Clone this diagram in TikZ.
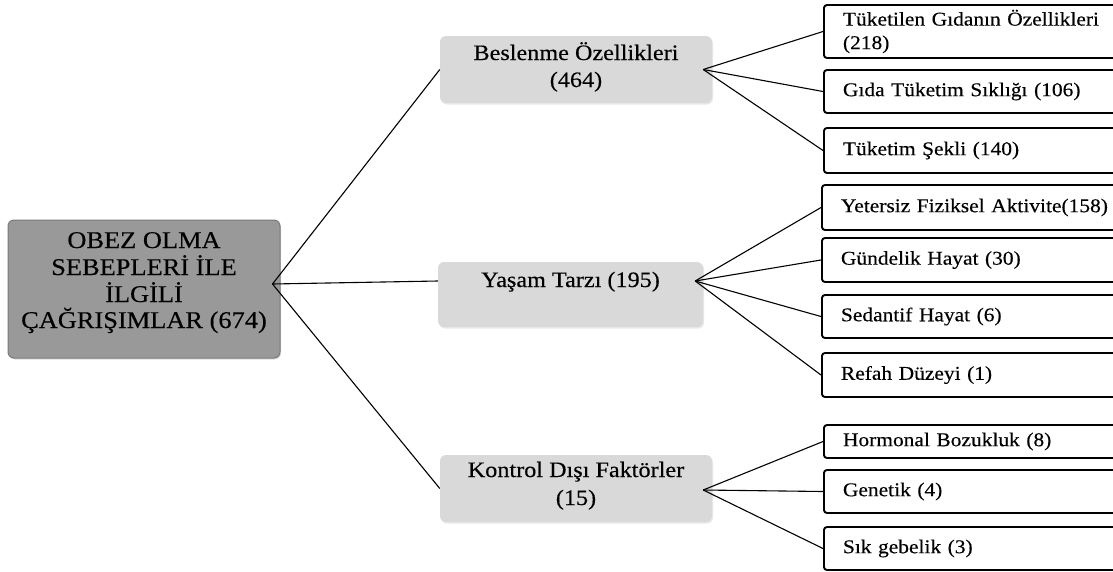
\documentclass[tikz,border=0pt]{standalone}
\usepackage{fontspec}
\setmainfont{Liberation Serif}[FakeStretch=1.1, UprightFeatures={FakeBold=0.3}]
\usetikzlibrary{shadows}
\definecolor{rootfill}{HTML}{999999}
\definecolor{rootline}{HTML}{7A7A7A}
\definecolor{midfill}{HTML}{D9D9D9}
\tikzset{
  x=1pt, y=-1pt,
  rootbox/.style={draw=rootline, line width=1pt, fill=rootfill, rounded corners=6pt,
    minimum width=272pt, minimum height=138pt, inner sep=0pt,
    drop shadow={opacity=0.25, shadow xshift=1pt, shadow yshift=-1.5pt}},
  roottext/.style={anchor=base, inner sep=0pt, font=\fontsize{24}{26.5}\selectfont},
  midbox/.style={fill=midfill, rounded corners=6pt, inner sep=0pt,
    drop shadow={opacity=0.18, shadow xshift=1pt, shadow yshift=-1.5pt}},
  midtext/.style={anchor=base, inner sep=0pt, font=\fontsize{22}{28}\selectfont},
  leafbox/.style={draw=black, line width=1.9pt, fill=white, rounded corners=3pt,
    anchor=west, text width=300pt, align=left, inner xsep=19pt, inner ysep=2pt,
    font=\fontsize{19.5}{23.5}\selectfont},
  conn/.style={draw=black, line width=1.1pt},
}
\begin{document}
\begin{tikzpicture}
\useasboundingbox (0,0) rectangle (1113,571);
\clip (0,0) rectangle (1113,571);
% root
\node[rootbox] (root) at (144,289) {};
\node[roottext] (rt1) at (144,248) {OBEZ OLMA};
\node[roottext] (rt2) at (144,275) {SEBEPLERİ İLE};
\node[roottext] (rt3) at (144,302) {İLGİLİ};
\node[roottext] (rt4) at (144,328) {ÇAĞRIŞIMLAR (674)};
% middle boxes
\node[midbox, minimum width=272pt, minimum height=67pt] (bes) at (576,69.5) {};
\node[midtext] (bt1) at (576,60) {Beslenme Özellikleri};
\node[midtext] (bt2) at (576,87) {(464)};
\node[midbox, minimum width=265pt, minimum height=65pt] (yas) at (570.5,294.5) {};
\node[midtext] (yt1) at (570.5,287) {Yaşam Tarzı (195)};
\node[midbox, minimum width=272pt, minimum height=67pt] (kon) at (576,488.5) {};
\node[midtext] (kt1) at (576,477) {Kontrol Dışı Faktörler};
\node[midtext] (kt2) at (576,505) {(15)};
% leaves
\node[leafbox, minimum height=53pt] (l1) at (823,31.5) {Tüketilen Gıdanın Özellikleri\\(218)};
\node[leafbox, minimum height=43pt] (l2) at (823,91.5) {Gıda Tüketim Sıklığı (106)};
\node[leafbox, minimum height=45pt] (l3) at (823,150.5) {Tüketim Şekli (140)};
\node[leafbox, minimum height=45pt] (l4) at (821,207.5) {Yetersiz Fiziksel Aktivite(158)};
\node[leafbox, minimum height=44pt] (l5) at (821,260) {Gündelik Hayat (30)};
\node[leafbox, minimum height=43pt] (l6) at (821,316.5) {Sedantif Hayat (6)};
\node[leafbox, minimum height=44pt] (l7) at (821,375) {Refah Düzeyi (1)};
\node[leafbox, minimum height=33pt] (l8) at (823,441.5) {Hormonal Bozukluk (8)};
\node[leafbox, minimum height=43pt] (l9) at (823,491.5) {Genetik (4)};
\node[leafbox, minimum height=43pt] (l10) at (823,548.5) {Sık gebelik (3)};
% connector anchors
\coordinate (rootR) at ([xshift=-8pt,yshift=5pt]root.east);
\coordinate (besR) at ([xshift=-9pt]bes.east);
\coordinate (yasL) at ([yshift=13.5pt]yas.west);
\coordinate (yasR) at ([xshift=-8pt,yshift=13.5pt]yas.east);
\coordinate (konR) at ([xshift=-9pt,yshift=-1.5pt]kon.east);
% connectors
\draw[conn] (rootR) -- (bes.west);
\draw[conn] (rootR) -- (yasL);
\draw[conn] (rootR) -- (kon.west);
\draw[conn] (besR) -- (l1.west);
\draw[conn] (besR) -- (l2.west);
\draw[conn] (besR) -- (l3.west);
\draw[conn] (yasR) -- (l4.west);
\draw[conn] (yasR) -- (l5.west);
\draw[conn] (yasR) -- (l6.west);
\draw[conn] (yasR) -- (l7.west);
\draw[conn] (konR) -- (l8.west);
\draw[conn] (konR) -- (l9.west);
\draw[conn] (konR) -- (l10.west);
\end{tikzpicture}
\end{document}
